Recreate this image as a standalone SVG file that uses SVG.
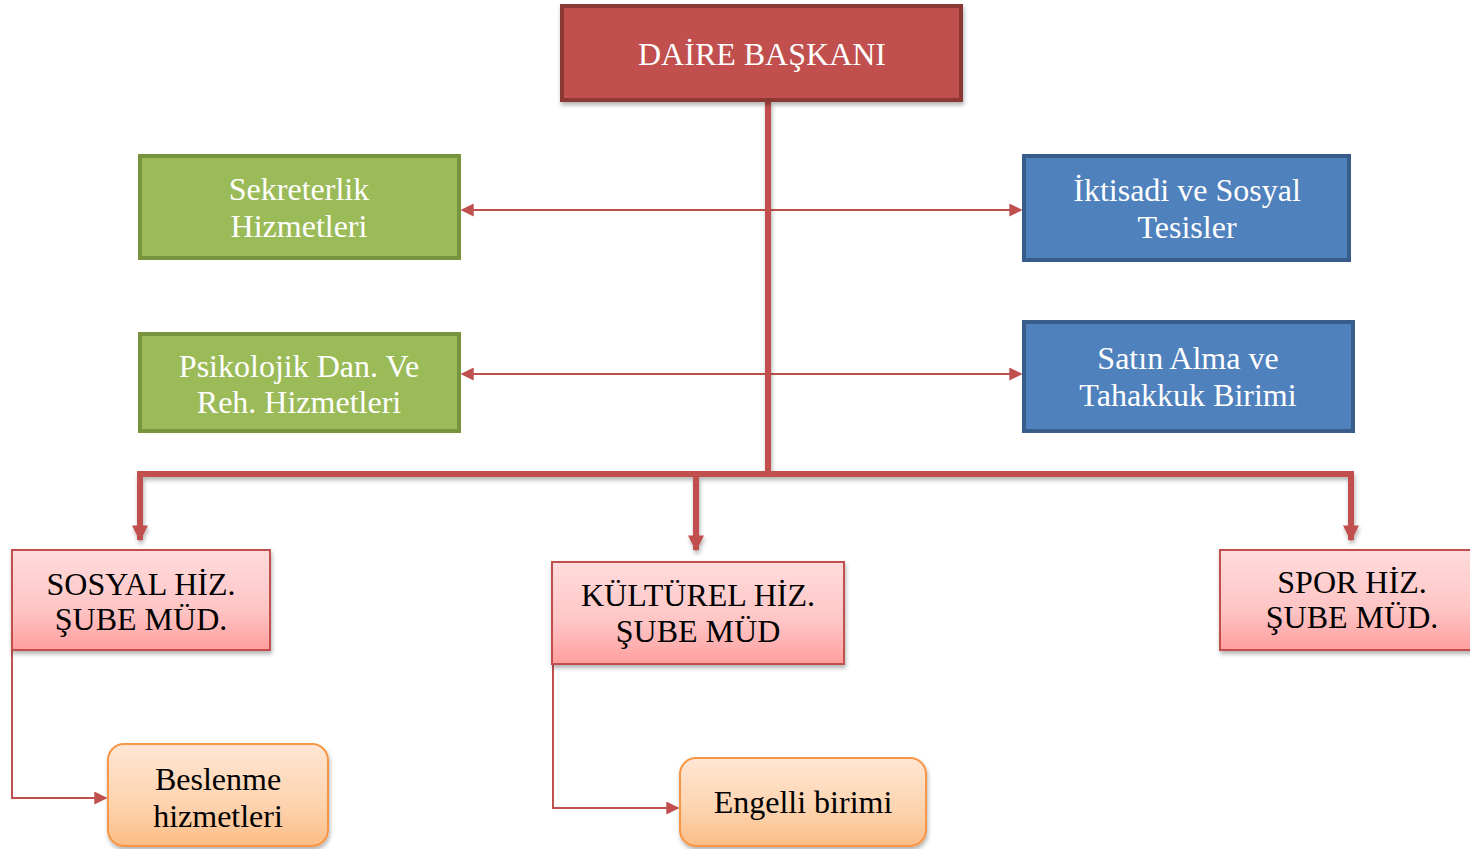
<svg xmlns="http://www.w3.org/2000/svg" width="1470" height="849" viewBox="0 0 1470 849">
<defs>
<style>
text{font-family:"Liberation Serif","Times New Roman",serif;text-anchor:middle}
.w{fill:#fff;font-size:32px}
.b{fill:#000;font-size:32px}
.thick{fill:none;stroke:#c0504d;stroke-width:6}
.thin{fill:none;stroke:#c0504d;stroke-width:2}
.red{fill:#c0504d;stroke:#8c3836;stroke-width:4}
.green{fill:#9bbb59;stroke:#77933c;stroke-width:4}
.blue{fill:#4f81bd;stroke:#385d8a;stroke-width:4}
.pink{fill:url(#gp);stroke:#c0504d;stroke-width:2}
.orange{fill:url(#go);stroke:#f79646;stroke-width:2}
</style>
<linearGradient id="gp" x1="0" y1="0" x2="0" y2="1">
<stop offset="0" stop-color="#ffdcdc"/><stop offset="0.6" stop-color="#ffc4c4"/><stop offset="1" stop-color="#ff9e9e"/>
</linearGradient>
<linearGradient id="go" x1="0" y1="0" x2="0" y2="1">
<stop offset="0" stop-color="#ffe6d4"/><stop offset="0.6" stop-color="#fdd3ae"/><stop offset="1" stop-color="#fbbd86"/>
</linearGradient>
<filter id="sh" x="-10%" y="-10%" width="125%" height="130%">
<feDropShadow dx="1" dy="3" stdDeviation="2" flood-color="#000" flood-opacity="0.3"/>
</filter>
<marker id="ab" viewBox="0 0 10 10" refX="9" refY="5" markerWidth="2.7" markerHeight="2.7" orient="auto" markerUnits="strokeWidth">
<path d="M0,0 L10,5 L0,10 z" fill="#c0504d"/>
</marker>
<marker id="at" viewBox="0 0 10 10" refX="9" refY="5" markerWidth="6.5" markerHeight="6.5" orient="auto-start-reverse" markerUnits="strokeWidth">
<path d="M0,0 L10,5 L0,10 z" fill="#c0504d"/>
</marker>
</defs>

<g id="connectors">
<line class="thin" x1="462" y1="210" x2="1021" y2="210" marker-start="url(#at)" marker-end="url(#at)"/>
<line class="thin" x1="462" y1="374" x2="1021" y2="374" marker-start="url(#at)" marker-end="url(#at)"/>
<g filter="url(#sh)">
<line class="thick" x1="768" y1="101" x2="768" y2="474"/>
<path class="thick" d="M768,474 H140 V540" marker-end="url(#ab)"/>
<path class="thick" d="M768,474 H1351 V540" marker-end="url(#ab)"/>
<line class="thick" x1="696" y1="474" x2="696" y2="550" marker-end="url(#ab)"/>
</g>
<path class="thin" d="M12,650 V798 H106" marker-end="url(#at)"/>
<path class="thin" d="M553,664 V808 H678" marker-end="url(#at)"/>
</g>

<g id="daire">
<rect class="red" x="562" y="6" width="399" height="94" filter="url(#sh)"/>
<text class="w" x="762" y="65">DAİRE BAŞKANI</text>
</g>
<g id="sekreterlik">
<rect class="green" x="140" y="156" width="319" height="102"/>
<text class="w" x="299" y="200">Sekreterlik</text>
<text class="w" x="299" y="237">Hizmetleri</text>
</g>
<g id="psikolojik">
<rect class="green" x="140" y="334" width="319" height="97"/>
<text class="w" x="299" y="377">Psikolojik Dan. Ve</text>
<text class="w" x="299" y="413">Reh. Hizmetleri</text>
</g>
<g id="iktisadi">
<rect class="blue" x="1024" y="156" width="325" height="104"/>
<text class="w" x="1187" y="201">İktisadi ve Sosyal</text>
<text class="w" x="1187" y="238">Tesisler</text>
</g>
<g id="satinalma">
<rect class="blue" x="1024" y="322" width="329" height="109"/>
<text class="w" x="1188" y="369">Satın Alma ve</text>
<text class="w" x="1188" y="406">Tahakkuk Birimi</text>
</g>
<g id="sosyal">
<rect class="pink" x="12" y="550" width="258" height="100" filter="url(#sh)"/>
<text class="b" x="141" y="595">SOSYAL HİZ.</text>
<text class="b" x="141" y="630">ŞUBE MÜD.</text>
</g>
<g id="kulturel">
<rect class="pink" x="552" y="562" width="292" height="102" filter="url(#sh)"/>
<text class="b" x="698" y="606">KÜLTÜREL HİZ.</text>
<text class="b" x="698" y="642">ŞUBE MÜD</text>
</g>
<g id="spor">
<rect class="pink" x="1220" y="550" width="260" height="100" filter="url(#sh)"/>
<text class="b" x="1352" y="593">SPOR HİZ.</text>
<text class="b" x="1352" y="628">ŞUBE MÜD.</text>
</g>
<g id="beslenme">
<rect class="orange" x="108" y="744" width="220" height="102" rx="16" filter="url(#sh)"/>
<text class="b" x="218" y="790">Beslenme</text>
<text class="b" x="218" y="827">hizmetleri</text>
</g>
<g id="engelli">
<rect class="orange" x="680" y="758" width="246" height="88" rx="16" filter="url(#sh)"/>
<text class="b" x="803" y="813">Engelli birimi</text>
</g>
</svg>
